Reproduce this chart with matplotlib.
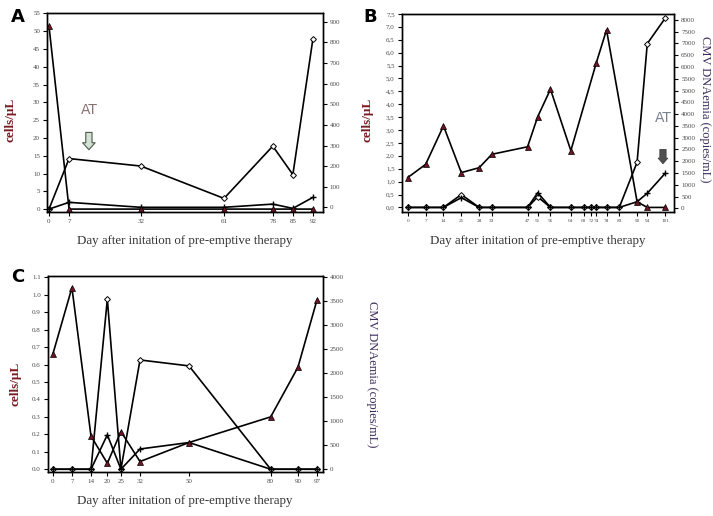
import matplotlib.pyplot as plt

# panel A
a_days = [0, 7, 32, 61, 78, 85, 92]
a_tri = [51.4, 0, 0, 0, 0, 0, 0]
a_dia = [0, 14.2, 12.1, 3.0, 17.7, 9.7, 47.9]
a_plus = [0, 1.9, 0.5, 0.5, 1.4, 0.2, 3.3]
a_left_ticks = list(range(0, 56, 5))
a_right_ticks = list(range(0, 901, 100))

# panel B
b_days = [0, 7, 14, 21, 28, 33, 47, 51, 56, 64, 69, 72, 74, 78, 83, 90, 94, 101]
b_tri_days = [0, 7, 14, 21, 28, 33, 47, 51, 56, 64, 74, 78, 90, 94, 101]
b_tri = [1.16, 1.67, 3.16, 1.35, 1.54, 2.06, 2.35, 3.52, 4.58, 2.2, 5.61, 6.88, 0.22, 0, 0]
b_dia = [0, 0, 0, 0.5, 0, 0, 0, 0.41, 0, 0, 0, 0, 0, 0, 0, 1.75, 6.35, 7.33]
b_plus = [0, 0, 0, 0.38, 0, 0, 0, 0.57, 0, 0, 0, 0, 0, 0, 0, 0.22, 0.55, 1.32]
b_left_ticks = [i * 0.5 for i in range(16)]
b_right_ticks = list(range(0, 8001, 500))

# panel C
c_days = [0, 7, 14, 20, 25, 32, 50, 80, 90, 97]
c_tri = [0.66, 1.04, 0.19, 0.034, 0.216, 0.044, 0.153, 0.30, 0.584, 0.97]
c_dia = [0, 0, 0, 0.974, 0, 0.626, 0.592, 0, 0, 0]
c_plus = [0, 0, 0, 0.197, 0, 0.116, 0.153, 0, 0, 0]
c_left_ticks = [i * 0.1 for i in range(12)]
c_right_ticks = list(range(0, 4001, 500))

xlab = "Day after initation of pre-emptive therapy"
ylab = "cells/μL"
rlab = "CMV DNAemia (copies/mL)"
serif = "Liberation Serif"
tick_col = "#4a4a4a"
tri_col = "#6e1424"


def style(ax, ax2):
    for a in (ax, ax2):
        a.tick_params(direction="out", length=3, width=0.8, labelsize=5,
                      labelcolor=tick_col, pad=2)
        for s in a.spines.values():
            s.set_linewidth(1.0)
    for lab in ax.get_xticklabels() + ax.get_yticklabels() + ax2.get_yticklabels():
        lab.set_fontfamily(serif)


def draw(ax, days, tri_days, tri, dia, plus):
    ax.plot(days, dia, color="black", lw=1.2, marker="D", ms=3, mfc="white", mec="black", mew=0.7)
    ax.plot(days, plus, color="black", lw=1.2, marker="+", ms=4, mew=1.0)
    ax.plot(tri_days, tri, color="black", lw=1.2, marker="^", ms=4, mfc=tri_col, mec="black", mew=0.5)


fig = plt.figure(figsize=(7.13, 5.16), dpi=100)

# ---------- A ----------
ax = fig.add_axes([0.0659, 0.589, 0.3867, 0.385])
ax2 = ax.twinx()
draw(ax, a_days, a_days, a_tri, a_dia, a_plus)
ax.set_xlim(-0.7, 95.4)
ax.set_ylim(-0.84, 55)
ax2.set_ylim(-23, 941)
ax.set_xticks(a_days)
ax.set_xticklabels([str(d) for d in a_days])
ax.set_yticks(a_left_ticks)
ax2.set_yticks(a_right_ticks)
style(ax, ax2)
ax.set_xlabel(xlab, family=serif, fontsize=9.3, color="#333333", labelpad=8)
ax.set_ylabel(ylab, family=serif, fontsize=9.5, color="#7a1a22", fontweight="bold")
ax.yaxis.set_label_coords(-0.109, 0.463)
ax.text(0.152, 0.513, "AT", transform=ax.transAxes, ha="center", va="center",
        fontsize=10, color="#8a7272")
ax.annotate("", xy=(0.152, 0.30), xytext=(0.152, 0.415), xycoords="axes fraction",
            arrowprops=dict(arrowstyle="simple,head_width=0.9,head_length=0.5,tail_width=0.45",
                            fc="#d5e0d5", ec="#4a5a4a", lw=0.8, mutation_scale=10))
fig.text(17.5 / 713, 1 - 17 / 516, "A", fontsize=13, fontweight="bold", ha="center", va="center")

# ---------- B ----------
ax = fig.add_axes([0.5634, 0.589, 0.3823, 0.384])
ax2 = ax.twinx()
draw(ax, b_days, b_tri_days, b_tri, b_dia, b_plus)
ax.set_xlim(-2.4, 104.6)
ax.set_ylim(-0.18, 7.5)
ax2.set_ylim(-157, 8255)
ax.set_xticks(b_days)
ax.set_xticklabels([str(d) for d in b_days])
ax.set_yticks(b_left_ticks)
ax.set_yticklabels([("%.1f" % v).replace(".", ",") for v in b_left_ticks])
ax2.set_yticks(b_right_ticks)
style(ax, ax2)
ax.tick_params(axis="x", labelsize=3.8)
ax.set_xlabel(xlab, family=serif, fontsize=9.3, color="#333333", labelpad=8.6)
ax.set_ylabel(ylab, family=serif, fontsize=9.5, color="#7a1a22", fontweight="bold")
ax.yaxis.set_label_coords(-0.105, 0.467)
ax2.set_ylabel(rlab, family=serif, fontsize=9, color="#3a2a5a", rotation=270, va="center")
ax2.yaxis.set_label_coords(1.112, 0.52)
ax.text(0.9585, 0.475, "AT", transform=ax.transAxes, ha="center", va="center",
        fontsize=10, color="#7a8290")
ax.annotate("", xy=(0.9585, 0.23), xytext=(0.9585, 0.33), xycoords="axes fraction",
            arrowprops=dict(arrowstyle="simple,head_width=0.7,head_length=0.4,tail_width=0.45",
                            fc="#505050", ec="#404040", lw=0.6, mutation_scale=10))
fig.text(370.5 / 713, 1 - 17 / 516, "B", fontsize=13, fontweight="bold", ha="center", va="center")

# ---------- C ----------
ax = fig.add_axes([0.0669, 0.0859, 0.3857, 0.3792])
ax2 = ax.twinx()
draw(ax, c_days, c_days, c_tri, c_dia, c_plus)
ax.set_xlim(-1.9, 99.1)
ax.set_ylim(-0.014, 1.107)
ax2.set_ylim(-50, 4015)
ax.set_xticks(c_days)
ax.set_xticklabels([str(d) for d in c_days])
ax.set_yticks(c_left_ticks)
ax.set_yticklabels(["%.1f" % v for v in c_left_ticks])
ax2.set_yticks(c_right_ticks)
style(ax, ax2)
ax.set_xlabel(xlab, family=serif, fontsize=9.3, color="#333333", labelpad=8)
ax.set_ylabel(ylab, family=serif, fontsize=9.5, color="#7a1a22", fontweight="bold")
ax.yaxis.set_label_coords(-0.095, 0.45)
ax2.set_ylabel(rlab, family=serif, fontsize=9, color="#3a2a5a", rotation=270, va="center")
ax2.yaxis.set_label_coords(1.179, 0.5)
fig.text(17.5 / 713, 1 - 277 / 516, "C", fontsize=13, fontweight="bold", ha="center", va="center")

fig.savefig("out.png", dpi=100)
